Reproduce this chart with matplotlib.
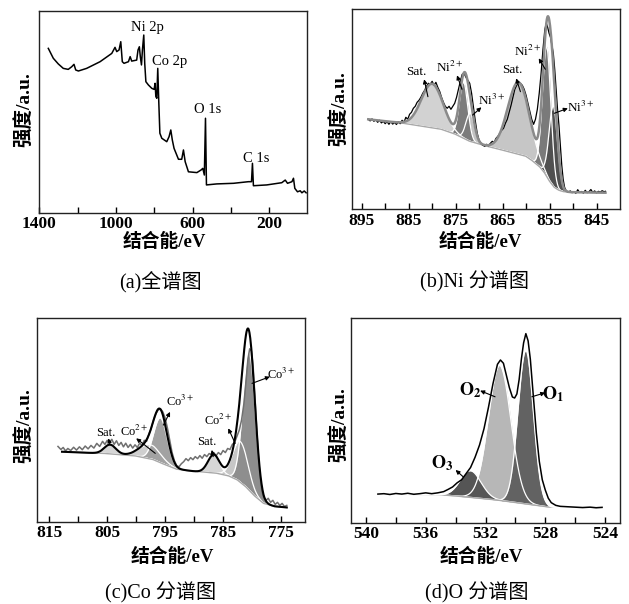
import numpy as np
import matplotlib
matplotlib.use("Agg")
import matplotlib.pyplot as plt

plt.rcParams['mathtext.fontset'] = 'stix'
SERIF = ['Liberation Serif', 'Noto Sans CJK SC']
W, H = 629, 604

# ---------------- (a) survey spectrum ----------------
survey_ev = [1353, 1327, 1301, 1275, 1249, 1231, 1219, 1210, 1196, 1153, 1083, 1022,
             1005, 996, 984, 975, 967, 958, 935, 926, 918, 892, 885, 878, 873, 867,
             862, 855, 850, 844, 831, 813, 801, 796, 792, 787, 782, 777, 771, 761,
             735, 723, 714, 706, 697, 674, 657, 648, 639, 622, 578, 556, 547, 539,
             533, 528, 474, 387, 309, 293, 288, 283, 213, 135, 117, 105, 82, 74, 67,
             53, 39, 30, 18, 8]
survey_int = [81.5, 76.6, 73.8, 71.6, 71.1, 72.4, 73.6, 70.8, 70.3, 71.6, 74.9, 79.0,
              82.0, 79.9, 80.7, 84.8, 74.9, 74.1, 74.9, 77.4, 75.2, 75.7, 80.7, 82.3,
              77.4, 73.3, 80.7, 88.1, 74.1, 65.0, 63.4, 61.7, 61.2, 64.2, 57.6, 56.8,
              71.6, 55.9, 39.5, 37.0, 35.3, 37.8, 41.1, 36.1, 32.0, 26.6, 26.6, 31.2,
              25.4, 20.4, 20.0, 21.3, 22.1, 18.8, 46.9, 13.9, 14.4, 14.7, 15.5, 15.5,
              24.6, 13.5, 13.9, 15.0, 16.3, 14.7, 15.5, 17.2, 12.2, 10.5, 11.0, 10.0,
              10.9, 10.0]
survey_labels = ["Ni 2p", "Co 2p", "O 1s", "C 1s"]
survey_label_ev = [838, 718, 524, 268]
survey_label_int = [92, 74.8, 51, 27.2]

# ---------------- (b) Ni 2p ----------------
ni_ev = [893.6, 893.2, 892.8, 892.4, 892.0, 891.6, 891.2, 890.8, 890.4, 890.0, 889.6,
         889.2, 888.8, 888.4, 888.0, 887.6, 887.2, 886.8, 886.4, 886.0, 885.6, 885.2,
         884.8, 884.4, 884.0, 883.6, 883.2, 882.8, 882.4, 882.0, 881.6, 881.2, 880.8,
         880.4, 880.0, 879.6, 879.2, 878.8, 878.4, 878.0, 877.6, 877.2, 876.8, 876.4,
         876.0, 875.6, 875.2, 874.8, 874.4, 874.0, 873.6, 873.2, 872.8, 872.4, 872.0,
         871.6, 871.2, 870.8, 870.4, 870.0, 869.6, 869.2, 868.8, 868.4, 868.0, 867.6,
         867.2, 866.8, 866.4, 866.0, 865.6, 865.2, 864.8, 864.4, 864.0, 863.6, 863.2,
         862.8, 862.4, 862.0, 861.6, 861.2, 860.8, 860.4, 860.0, 859.6, 859.2, 858.8,
         858.4, 858.0, 857.6, 857.2, 856.8, 856.4, 856.0, 855.7, 855.4, 855.1, 854.8,
         854.5, 854.2, 853.9, 853.6, 853.3, 853.0, 852.7, 852.4, 852.1, 851.8, 851.5,
         851.0, 850.6, 850.2, 849.8, 849.4, 849.0, 848.6, 848.2, 847.8, 847.4, 847.0,
         846.6, 846.2, 845.8, 845.4, 845.0, 844.6, 844.2, 843.8, 843.4, 843.1]
ni_int = [45.0, 44.2, 45.2, 44.0, 44.8, 43.5, 44.5, 43.2, 44.0, 42.8, 43.8,
          42.5, 43.8, 42.6, 43.4, 42.4, 43.8, 42.8, 44.5, 43.5, 46.0, 45.0,
          47.5, 48.5, 50.5, 51.5, 53.5, 54.5, 56.0, 58.0, 59.5, 61.5, 63.0,
          62.5, 64.0, 62.0, 63.5, 61.0, 59.0, 56.0, 53.5, 51.5, 50.5, 51.5,
          50.0, 51.5, 53.0, 56.0, 60.0, 64.0, 67.5, 68.0, 66.0, 64.5, 63.0,
          58.0, 51.0, 44.0, 38.0, 34.5, 33.0, 32.0, 31.5, 32.5, 31.8, 33.0,
          34.0, 33.5, 35.5, 36.5, 38.0, 39.5, 40.5, 43.0, 45.0, 48.5, 52.0,
          56.0, 60.0, 62.0, 63.5, 63.0, 62.0, 60.0, 57.0, 53.0, 49.0, 45.0,
          42.5, 45.0, 50.0, 58.0, 68.0, 80.0, 90.0, 93.0, 91.0, 88.0, 86.0,
          82.0, 78.0, 70.0, 60.0, 50.0, 42.0, 32.0, 22.0, 15.0, 11.0, 9.5,
          8.5, 9.2, 8.3, 8.8, 8.0, 9.8, 8.4, 8.9, 8.1, 9.5, 8.3,
          8.8, 9.9, 8.4, 9.2, 8.2, 9.0, 8.6, 9.3, 8.8, 9.0]
ni_bg_ev = [893.6, 886, 882, 878, 875, 872, 868, 864, 860, 858.5, 857, 856, 855, 854,
            853, 852, 850, 843.1]
ni_bg_int = [45, 43, 41.5, 40, 37.5, 34, 31.3, 29, 26.5, 24, 21, 18, 14, 11, 9.5, 8.8,
             8.5, 8.3]
ni_center = [880.0, 871.9, 873.3, 861.6, 855.6, 854.2]
ni_height = [22, 14, 28, 36, 65, 40]
ni_sigma = [2.3, 0.9, 0.9, 2.3, 0.9, 0.9]
ni_colors = ['#d2d2d2', '#c2c2c2', '#7c7c7c', '#c6c6c6', '#7a7a7a', '#505050']

ni_lab_text = ["Sat.", "Ni$^{2+}$", "Ni$^{3+}$", "Sat.", "Ni$^{2+}$", "Ni$^{3+}$"]
ni_lab_xy = [(883.3, 68.8), (876.3, 71.0), (867.4, 54.6), (863.0, 69.6), (859.6, 78.8),
             (848.4, 51.0)]
ni_arrow_tail = [(880.9, 56.3), (873.65, 60.0), (871.4, 47.1), (861.2, 58.8),
                 (855.9, 70.0), (854.0, 48.0)]
ni_arrow_head = [(881.7, 65.0), (874.7, 67.0), (869.5, 51.0), (862.1, 65.5),
                 (857.3, 75.5), (851.1, 50.5)]

# ---------------- (c) Co 2p ----------------
co_ev = [813.5, 813.0, 812.6, 812.2, 811.8, 811.3, 810.8, 810.3, 809.8, 809.3, 808.8,
         808.3, 807.8, 807.3, 806.8, 806.3, 805.8, 805.4, 805.0, 804.6, 804.2, 803.8,
         803.4, 803.0, 802.6, 802.2, 801.8, 801.4, 801.0, 800.6, 800.2, 799.8, 799.4,
         799.0, 798.6, 798.2, 797.8, 797.4, 797.0, 796.6, 796.2, 795.8, 795.4, 795.0,
         794.6, 794.2, 793.8, 793.4, 793.0, 792.6, 792.2, 791.8, 791.4, 791.0, 790.6,
         790.2, 789.8, 789.4, 789.0, 788.6, 788.2, 787.8, 787.4, 787.0, 786.6, 786.2,
         785.8, 785.4, 785.0, 784.6, 784.2, 783.8, 783.4, 783.0, 782.6, 782.2, 781.8,
         781.4, 781.0, 780.7, 780.4, 780.1, 779.8, 779.5, 779.2, 778.9, 778.6, 778.3,
         778.0, 777.6, 777.2, 776.8, 776.4, 776.0, 775.6, 775.2, 774.8, 774.4, 774.0]
co_int = [37.0, 35.5, 36.5, 34.8, 36.0, 35.0, 36.6, 35.2, 36.8, 35.4, 37.2,
          35.8, 37.5, 36.2, 38.5, 37.0, 39.5, 38.0, 40.0, 39.0, 40.5, 38.0,
          39.8, 37.5, 39.0, 36.8, 38.6, 36.5, 38.0, 36.2, 37.8, 36.5, 38.6,
          37.5, 40.0, 39.5, 43.0, 46.0, 50.0, 53.0, 55.0, 55.5, 54.0, 51.0,
          46.0, 40.0, 34.0, 30.0, 27.5, 27.0, 28.5, 29.5, 31.0, 30.0, 31.5,
          30.5, 32.0, 31.0, 32.5, 31.2, 33.0, 32.0, 33.5, 33.0, 34.0, 32.5,
          34.0, 33.0, 35.0, 34.0, 36.0, 35.5, 38.0, 39.0, 42.0, 45.0, 50.0,
          58.0, 70.0, 80.0, 85.0, 84.0, 76.0, 62.0, 46.0, 32.0, 22.0, 15.0,
          12.0, 10.5, 11.5, 9.5, 10.5, 8.5, 9.5, 8.0, 9.0, 7.5, 8.0]
co_bg_ev = [812.8, 805, 800, 797, 795, 793, 790, 786, 784, 782.5, 781, 779.5, 778,
            776, 774]
co_bg_int = [34.4, 33.5, 32.3, 30.5, 28.0, 25.8, 24.8, 23.8, 22.5, 20.5, 17.0, 12.5,
             9.0, 7.5, 7.0]
co_center = [804.5, 797.6, 795.8, 786.6, 782.0, 780.5]
co_height = [4.5, 7.0, 22.0, 9.0, 20.0, 68.0]
co_sigma = [1.0, 1.8, 1.15, 1.0, 1.3, 1.05]
co_colors = ['#d6d6d6', '#cfcfcf', '#a2a2a2', '#d6d6d6', '#c6c6c6', '#8e8e8e']

co_lab_text = ["Sat.", "Co$^{2+}$", "Co$^{3+}$", "Sat.", "Co$^{2+}$", "Co$^{3+}$"]
co_lab_xy = [(805.3, 43.8), (800.4, 44.2), (792.4, 59.0), (787.8, 39.3), (785.8, 50.0),
             (774.9, 72.5)]
co_arrow_tail = [(804.5, 37.7), (796.7, 33.6), (795.3, 47.5), (786.7, 32.0),
                 (782.9, 38.5), (780.0, 68.0)]
co_arrow_head = [(804.8, 41.0), (800.0, 41.0), (794.15, 54.0), (786.95, 35.3),
                 (784.1, 45.9), (776.9, 71.3)]

# ---------------- (d) O 1s ----------------
o_ev = [539.2, 538.8, 538.4, 538.0, 537.6, 537.2, 536.8, 536.4, 536.0, 535.6, 535.2,
        534.8, 534.5, 534.2, 533.9, 533.6, 533.3, 533.0, 532.7, 532.4, 532.1, 531.8,
        531.5, 531.2, 531.0, 530.8, 530.6, 530.4, 530.2, 530.05, 529.9, 529.75, 529.6,
        529.45, 529.3, 529.15, 529.0, 528.8, 528.6, 528.4, 528.2, 528.0, 527.8, 527.6,
        527.3, 527.0, 526.5, 526.0, 525.5, 525.0, 524.6, 524.2]
o_int = [14.0, 14.2, 13.8, 14.3, 14.0, 14.4, 13.9, 14.2, 14.6, 14.2, 14.6,
         15.2, 16.3, 17.5, 19.5, 21.0, 24.0, 27.0, 32.0, 38.0, 46.0, 56.5,
         68.0, 77.5, 79.6, 78.0, 72.0, 66.0, 61.5, 61.0, 63.0, 70.0, 80.0,
         88.0, 92.5, 89.0, 80.0, 62.0, 44.0, 30.0, 21.0, 16.0, 12.0, 9.8,
         8.5, 8.0, 7.8, 7.6, 7.4, 7.6, 7.3, 7.5]
o_bg_ev = [539.2, 536, 534.5, 533, 531.1, 529.5, 527.7, 524.2]
o_bg_int = [14.0, 13.8, 13.4, 12.4, 11.0, 9.4, 7.6, 7.5]
o_center = [531.05, 533.0, 529.3]
o_height = [66.0, 13.0, 75.0]
o_sigma = [0.75, 0.7, 0.52]
o_colors = ['#b7b7b7', '#555555', '#626262']

o_lab_text = [r"$\mathbf{O}_\mathbf{2}$", r"$\mathbf{O}_\mathbf{1}$", r"$\mathbf{O}_\mathbf{3}$"]
o_lab_xy = [(533.03, 64.6), (527.46, 63.0), (534.9, 29.0)]
o_arrow_tail = [(531.36, 61.6), (528.9, 61.6), (533.5, 22.5)]
o_arrow_head = [(532.36, 64.6), (528.0, 63.6), (534.0, 25.8)]


def gauss(x, c, h, s):
    return h * np.exp(-0.5 * ((x - c) / s) ** 2)


def draw_fit(ax, bg_ev, bg_int, centers, heights, sigmas, colors):
    # components sit on the (read-off) background line
    x = np.linspace(min(bg_ev), max(bg_ev), 900)
    bg = np.interp(x, bg_ev[::-1], bg_int[::-1])
    comps = [gauss(x, c, h, s) for c, h, s in zip(centers, heights, sigmas)]
    for g, col in zip(comps, colors):
        ax.fill_between(x, bg, bg + g, color=col, lw=0)
    for g in comps:
        ax.plot(x, bg + g, color='white', lw=0.9)
    ax.plot(x, bg, color='#a8a8a8', lw=1.0)
    return x, bg + np.sum(comps, axis=0)


def annotate(ax, texts, xy, tails, heads, **kw):
    for t, p, a, b in zip(texts, xy, tails, heads):
        ax.annotate('', xy=b, xytext=a,
                    arrowprops=dict(arrowstyle='-|>', color='black', lw=0.8,
                                    mutation_scale=6, shrinkA=0, shrinkB=0))
        ax.text(p[0], p[1], t, ha='center', va='center', family=SERIF, **kw)


def make_axes(l, t, r, b):
    return fig.add_axes([l / W, 1 - b / H, (r - l) / W, (b - t) / H])


def style(ax, xlim, major, minor):
    ax.set_xlim(*xlim)
    ax.set_ylim(0, 100)
    ax.set_xticks(major)
    ax.set_xticklabels([str(v) for v in major], fontfamily='Liberation Serif',
                       fontweight='bold', fontsize=12.5)
    ax.set_xticks(minor, minor=True)
    ax.set_yticks([])
    ax.tick_params(axis='x', which='both', direction='in', length=4, width=1.0, pad=2.5)
    for s in ax.spines.values():
        s.set_linewidth(1.0)
        s.set_color('#222222')


def ftext(x, y, s, **kw):
    fig.text(x / W, 1 - y / H, s, ha='center', va='center', family=SERIF, **kw)


fig = plt.figure(figsize=(6.29, 6.04), dpi=100)

# (a)
ax = make_axes(39.3, 11, 306.7, 213)
ax.plot(survey_ev, survey_int, color='black', lw=1.1)
for t, e, v in zip(survey_labels, survey_label_ev, survey_label_int):
    ax.text(e, v, t, ha='center', va='center', family=SERIF, fontsize=10.5)
style(ax, (1400, 5), [1400, 1000, 600, 200], [1200, 800, 400])

# (b)
ax = make_axes(352.3, 9.3, 620, 209.3)
x, env = draw_fit(ax, ni_bg_ev, ni_bg_int, ni_center, ni_height, ni_sigma, ni_colors)
ax.plot(ni_ev, ni_int, color='black', lw=0.9)
ax.plot(x, env, color='#8a8a8a', lw=1.8)
annotate(ax, ni_lab_text, ni_lab_xy, ni_arrow_tail, ni_arrow_head, fontsize=9.5)
style(ax, (897, 840), [895, 885, 875, 865, 855, 845], [890, 880, 870, 860, 850])

# (c)
ax = make_axes(37.3, 318.3, 305, 521.7)
x, env = draw_fit(ax, co_bg_ev, co_bg_int, co_center, co_height, co_sigma, co_colors)
ax.plot(co_ev, co_int, color='#707070', lw=1.1)
ax.plot(x, env, color='black', lw=1.5)
annotate(ax, co_lab_text, co_lab_xy, co_arrow_tail, co_arrow_head, fontsize=9)
style(ax, (817.07, 770.85), [815, 805, 795, 785, 775], [810, 800, 790, 780])

# (d)
ax = make_axes(351, 318.3, 620, 522.7)
x, env = draw_fit(ax, o_bg_ev, o_bg_int, o_center, o_height, o_sigma, o_colors)
ax.plot(x, env, color='white', lw=1.4)
ax.plot(o_ev, o_int, color='black', lw=1.1)
annotate(ax, o_lab_text, o_lab_xy, o_arrow_tail, o_arrow_head, fontsize=13)
style(ax, (541.0, 523.0), [540, 536, 532, 528, 524], [538, 534, 530, 526])

# axis titles and captions
for x0, y0 in [(25, 110), (340, 109), (25, 426), (340, 425)]:
    ftext(x0, y0, "强度/a.u.", rotation=90, fontsize=14, fontweight='bold')
for x0, y0 in [(164, 242), (480, 242), (172, 557), (481, 557)]:
    ftext(x0, y0, "结合能/eV", fontsize=13.5, fontweight='bold')
captions = ["(a)全谱图", "(b)Ni 分谱图", "(c)Co 分谱图", "(d)O 分谱图"]
for s, (x0, y0) in zip(captions, [(160, 282), (475, 282), (161, 593), (477, 593)]):
    ftext(x0, y0, s, fontsize=14.5)

fig.savefig("out.png", dpi=100)
